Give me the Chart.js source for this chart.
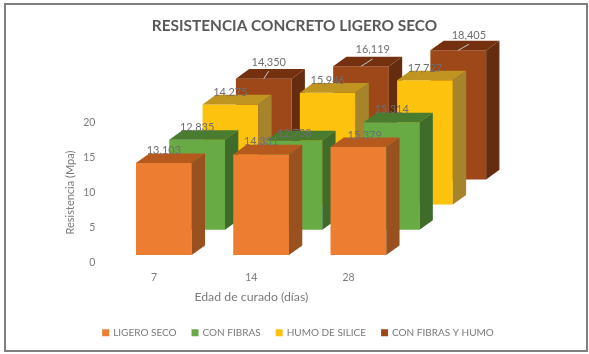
<!DOCTYPE html>
<html>
<head>
<meta charset="utf-8">
<title>Resistencia concreto ligero seco</title>
<script src="https://cdn.jsdelivr.net/npm/chart.js@4"></script>
<style>
  body { margin: 0; background: #fff; }
  #wrap { position: relative; width: 589px; height: 354px; }
  #chart { position: absolute; left: 0; top: 0; }
  #frame { position: absolute; left: 4px; top: 3px; width: 580px; height: 345px; border: 2px solid #7f7f7f; }
</style>
</head>
<body>
<div id="wrap">
  <canvas id="chart" width="589" height="354"></canvas>
  <div id="frame"></div>
</div>
<script>
// Values
var categories = ["7", "14", "28"];
var seriesNames = ["LIGERO SECO", "CON FIBRAS", "HUMO DE SILICE", "CON FIBRAS Y HUMO"];
var ligeroSeco = [13.103, 14.331, 15.379];
var conFibras = [12.835, 12.738, 15.314];
var humoSilice = [14.275, 15.946, 17.727];
var conFibrasHumo = [14.35, 16.119, 18.405];

// front, top and side colours of each series
var frontColors = ["#ed7d31", "#68ab45", "#fcc20e", "#9e481a"];
var topColors = ["#b5591f", "#4a7c30", "#bf9421", "#74300f"];
var sideColors = ["#99511f", "#3f6b2b", "#a5842c", "#652c0f"];

// how far each series row sits back from the axis, and the depth of a bar
var rowStart = { x: 9.8, y: -7.7 };
var rowStep = { x: 33.3, y: -25.2 };
var barDepth = { x: 13.3, y: -9.6 };

// hand placed data labels, relative to the top centre of the front face
var labelNudgeX = [[0, 0, 6.3], [0, 0, 0], [0, 0, 0], [5, 11.7, 10.6]];
var labelNudgeY = [[-12.3, -12.7, -11.7], [-12.6, -7, -12.7], [-12.3, -12.4, -12], [-16.6, -16.4, -15]];
var leaderRow = 3;

function rowShift(i) {
  return { x: rowStart.x + i * rowStep.x, y: rowStart.y + i * rowStep.y };
}

function fillPoly(ctx, color, pts) {
  ctx.fillStyle = color;
  ctx.beginPath();
  ctx.moveTo(pts[0][0], pts[0][1]);
  for (var i = 1; i < pts.length; i++) {
    ctx.lineTo(pts[i][0], pts[i][1]);
  }
  ctx.closePath();
  ctx.fill();
}

// Bar controller that draws its bars as boxes, one row behind the other
class Bar3DController extends Chart.BarController {
  draw() {
    var ctx = this.chart.ctx;
    var i = this.index;
    var shift = rowShift(i);
    this.getMeta().data.forEach(function(bar) {
      var left = bar.x - bar.width / 2 + shift.x;
      var right = bar.x + bar.width / 2 + shift.x;
      var top = bar.y + shift.y;
      var base = bar.base + shift.y;
      fillPoly(ctx, frontColors[i], [[left, top], [right, top], [right, base], [left, base]]);
      fillPoly(ctx, topColors[i], [[left, top], [left + barDepth.x, top + barDepth.y], [right + barDepth.x, top + barDepth.y], [right, top]]);
      fillPoly(ctx, sideColors[i], [[right, top], [right + barDepth.x, top + barDepth.y], [right + barDepth.x, base + barDepth.y], [right, base]]);
    });
  }
}
Bar3DController.id = "bar3d";
Bar3DController.defaults = Chart.BarController.defaults;
Bar3DController.overrides = Chart.BarController.overrides;
Chart.register(Bar3DController);

// Data labels and the leader lines of the back row
var dataLabels = {
  id: "dataLabels",
  afterLayout: function(chart) {
    // the legend sits a little right of the chart centre
    chart.legend.left += 8;
  },
  afterDatasetsDraw: function(chart) {
    var ctx = chart.ctx;
    ctx.save();
    ctx.font = "11px Lato";
    ctx.textAlign = "center";
    ctx.textBaseline = "middle";
    for (var i = chart.data.datasets.length - 1; i >= 0; i--) {
      var shift = rowShift(i);
      chart.getDatasetMeta(i).data.forEach(function(bar, j) {
        var cx = bar.x + shift.x;
        var cy = bar.y + shift.y;
        var lx = cx + labelNudgeX[i][j];
        var ly = cy + labelNudgeY[i][j];
        if (i === leaderRow) {
          ctx.strokeStyle = "#c8c8c8";
          ctx.lineWidth = 1;
          ctx.beginPath();
          ctx.moveTo(cx, cy);
          ctx.lineTo(lx, ly + 9);
          ctx.stroke();
        }
        ctx.fillStyle = "#6e6e6e";
        ctx.fillText(chart.data.datasets[i].data[j].toFixed(3).replace(".", ","), lx, ly);
      });
    }
    ctx.restore();
  }
};

var allValues = [ligeroSeco, conFibras, humoSilice, conFibrasHumo];

new Chart(document.getElementById("chart").getContext("2d"), {
  type: "bar3d",
  data: {
    labels: categories,
    datasets: allValues.map(function(values, i) {
      return {
        label: seriesNames[i],
        data: values,
        backgroundColor: frontColors[i],
        clip: false,
        grouped: false,
        barPercentage: 0.573,
        categoryPercentage: 1
      };
    })
  },
  options: {
    responsive: false,
    animation: false,
    layout: { padding: { bottom: 6.3 } },
    scales: {
      x: {
        grid: { display: false, drawTicks: false },
        border: { display: false },
        ticks: { color: "#7a7a7a", font: { family: "Lato", size: 10.5 }, padding: 9 },
        title: {
          display: true,
          text: "Edad de curado (días)",
          color: "#7a7a7a",
          font: { family: "Lato", size: 12.3 },
          padding: { top: 7, bottom: 7 }
        },
        afterFit: function(scale) {
          scale.height = 49;
        }
      },
      y: {
        min: 0,
        max: 20,
        grid: { display: false, drawTicks: false },
        border: { display: false },
        ticks: { stepSize: 5, color: "#7a7a7a", font: { family: "Lato", size: 10.5 }, padding: 10 },
        title: {
          display: true,
          text: "Resistencia (Mpa)",
          color: "#7a7a7a",
          font: { family: "Lato", size: 11 },
          padding: { top: 64, bottom: 0 }
        },
        afterFit: function(scale) {
          scale.width = 105.4;
        }
      },
      // empty axis, only keeps the room the boxes need on the right
      depth: {
        type: "linear",
        position: "right",
        grid: { display: false, drawTicks: false },
        border: { display: false },
        ticks: { display: false },
        afterFit: function(scale) {
          scale.width = 191.8;
        }
      }
    },
    plugins: {
      title: {
        display: true,
        text: "RESISTENCIA CONCRETO LIGERO SECO",
        color: "#595959",
        font: { family: "Lato", size: 15.4, weight: "bold" },
        padding: { top: 17, bottom: 86.9 }
      },
      legend: {
        position: "bottom",
        labels: {
          color: "#7a7a7a",
          font: { family: "Lato", size: 10 },
          usePointStyle: true,
          pointStyle: "rect",
          boxWidth: 5,
          boxHeight: 7,
          padding: 16
        }
      },
      tooltip: { enabled: false }
    }
  },
  plugins: [dataLabels]
});
</script>
</body>
</html>
